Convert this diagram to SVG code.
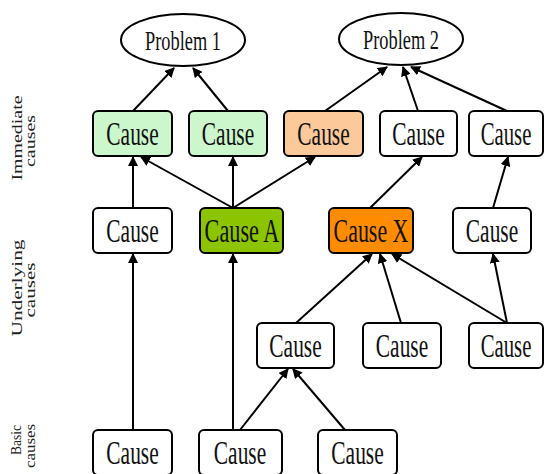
<svg xmlns="http://www.w3.org/2000/svg" width="545" height="474" viewBox="0 0 545 474">
<style>
.box{stroke:#000;stroke-width:2;}
.w{fill:#fff}.lg{fill:#ccf7cc}.pe{fill:#fcc99a}.g{fill:#8cc400}.o{fill:#ff8c00}
.t{font-family:"Liberation Serif","Times New Roman",serif;font-size:34px;fill:#111;text-anchor:middle}
.p{font-family:"Liberation Serif","Times New Roman",serif;font-size:27px;fill:#111;text-anchor:middle}
.s{font-family:"Liberation Serif","Times New Roman",serif;font-size:15px;fill:#222;text-anchor:middle}
.c line{stroke:#000;stroke-width:2;marker-end:url(#ah)}
</style>
<defs>
<marker id="ah" viewBox="0 0 10 10" refX="9" refY="5" markerWidth="5" markerHeight="5" orient="auto" markerUnits="strokeWidth">
<path d="M0,0 L10,5 L0,10 z" fill="#000"/>
</marker>
</defs>
<rect width="545" height="474" fill="#fff"/>
<g id="labels">
<text class="s" transform="translate(22,138) rotate(-90)" textLength="85" lengthAdjust="spacingAndGlyphs">Immediate</text>
<text class="s" transform="translate(35,141) rotate(-90)" textLength="52" lengthAdjust="spacingAndGlyphs">causes</text>
<text class="s" transform="translate(22,288) rotate(-90)" textLength="97" lengthAdjust="spacingAndGlyphs">Underlying</text>
<text class="s" transform="translate(35,290) rotate(-90)" textLength="55" lengthAdjust="spacingAndGlyphs">causes</text>
<text class="s" transform="translate(21,440) rotate(-90)" textLength="30" lengthAdjust="spacingAndGlyphs">Basic</text>
<text class="s" transform="translate(35,446) rotate(-90)" textLength="44" lengthAdjust="spacingAndGlyphs">causes</text>
</g>
<g class="c" id="connectors">
<line x1="133" y1="111" x2="174" y2="68"/>
<line x1="228" y1="111" x2="193" y2="68"/>
<line x1="325" y1="111" x2="387" y2="67"/>
<line x1="418" y1="111" x2="403" y2="67"/>
<line x1="507" y1="111" x2="411" y2="67"/>
<line x1="133" y1="208" x2="133" y2="157"/>
<line x1="233" y1="208" x2="141" y2="157"/>
<line x1="233" y1="208" x2="233" y2="157"/>
<line x1="233" y1="208" x2="315" y2="157"/>
<line x1="370" y1="208" x2="422" y2="157"/>
<line x1="493" y1="208" x2="508" y2="157"/>
<line x1="296" y1="323" x2="372" y2="254"/>
<line x1="401" y1="323" x2="380" y2="254"/>
<line x1="507" y1="323" x2="392" y2="254"/>
<line x1="507" y1="323" x2="493" y2="254"/>
<line x1="133" y1="430" x2="133" y2="254"/>
<line x1="233" y1="430" x2="233" y2="254"/>
<line x1="240" y1="430" x2="288" y2="369"/>
<line x1="345" y1="430" x2="293" y2="369"/>
</g>
<g id="problem1"><ellipse class="box w" cx="183" cy="40" rx="62" ry="26"/><text class="p" transform="translate(183,50) scale(0.68,1)">Problem 1</text></g>
<g id="problem2"><ellipse class="box w" cx="401" cy="39" rx="62" ry="26"/><text class="p" transform="translate(401,49) scale(0.68,1)">Problem 2</text></g>
<g id="imm1"><rect class="box lg" x="93" y="111" width="79" height="45" rx="5"/><text class="t" transform="translate(132.5,145) scale(0.63,1)">Cause</text></g>
<g id="imm2"><rect class="box lg" x="189" y="111" width="78" height="45" rx="5"/><text class="t" transform="translate(228,145) scale(0.63,1)">Cause</text></g>
<g id="imm3"><rect class="box pe" x="284" y="111" width="79" height="45" rx="5"/><text class="t" transform="translate(323.5,145) scale(0.63,1)">Cause</text></g>
<g id="imm4"><rect class="box w" x="380" y="111" width="77" height="45" rx="5"/><text class="t" transform="translate(418.5,145) scale(0.63,1)">Cause</text></g>
<g id="imm5"><rect class="box w" x="469" y="111" width="74" height="45" rx="5"/><text class="t" transform="translate(506,145) scale(0.61,1)">Cause</text></g>
<g id="und1"><rect class="box w" x="93" y="208" width="79" height="45" rx="5"/><text class="t" transform="translate(132.5,242) scale(0.63,1)">Cause</text></g>
<g id="causeA"><rect class="box g" x="200" y="208" width="83" height="45" rx="5"/><text class="t" transform="translate(242,242) scale(0.655,1)">Cause A</text></g>
<g id="causeX"><rect class="box o" x="329" y="208" width="84" height="45" rx="5"/><text class="t" transform="translate(371,242) scale(0.645,1)">Cause X</text></g>
<g id="und4"><rect class="box w" x="453" y="208" width="78" height="45" rx="5"/><text class="t" transform="translate(492,242) scale(0.63,1)">Cause</text></g>
<g id="mid1"><rect class="box w" x="257" y="323" width="77" height="45" rx="5"/><text class="t" transform="translate(295.5,357) scale(0.63,1)">Cause</text></g>
<g id="mid2"><rect class="box w" x="363" y="323" width="78" height="45" rx="5"/><text class="t" transform="translate(402,357) scale(0.63,1)">Cause</text></g>
<g id="mid3"><rect class="box w" x="469" y="323" width="74" height="45" rx="5"/><text class="t" transform="translate(506,357) scale(0.61,1)">Cause</text></g>
<g id="bas1"><rect class="box w" x="93" y="430" width="79" height="45" rx="5"/><text class="t" transform="translate(132.5,464) scale(0.63,1)">Cause</text></g>
<g id="bas2"><rect class="box w" x="199" y="430" width="83" height="45" rx="5"/><text class="t" transform="translate(240,464) scale(0.63,1)">Cause</text></g>
<g id="bas3"><rect class="box w" x="318" y="430" width="79" height="45" rx="5"/><text class="t" transform="translate(357.5,464) scale(0.63,1)">Cause</text></g>
</svg>
